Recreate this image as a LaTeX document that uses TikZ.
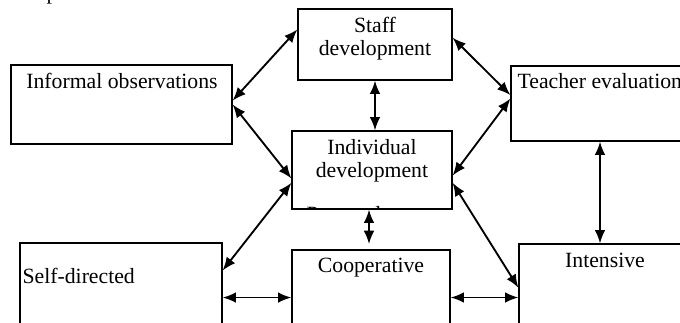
\documentclass[tikz,border=0pt]{standalone}
\usepackage{fontspec}
\setmainfont{Liberation Serif}
\usetikzlibrary{arrows.meta}
\tikzset{
  every picture/.style={line width=0.9pt},
  box/.style={draw, rectangle, inner sep=0pt},
  lbl/.style={font=\fontsize{16.3}{17.25}\selectfont, inner sep=0pt, align=center},
  link/.style={<->, line width=1.4pt}
}

\begin{document}
\begin{tikzpicture}[x=0.75pt, y=-0.75pt, >={Latex[length=10pt, width=8pt]}]
    \useasboundingbox (0,0) rectangle (680,322);
    \clip (0,0) rectangle (680,322);

    \node [box, minimum width=115.5pt, minimum height=53.25pt] (staff) at (375,44.5) {};
    \node [box, minimum width=165.75pt, minimum height=59.25pt] (informal) at (121.5,104.5) {};
    \node [box, minimum width=142.5pt, minimum height=56.25pt] (teacher) at (606,103.5) {};
    \node [box, minimum width=120pt, minimum height=58.5pt] (individual) at (372,170) {};
    \node [box, minimum width=151.5pt, minimum height=76.5pt] (selfdir) at (121,294) {};
    \node [box, minimum width=118.5pt, minimum height=71.25pt] (coop) at (371,297.5) {};
    \node [box, minimum width=143.25pt, minimum height=75.75pt] (intensive) at (614.5,294.5) {};

    \node [lbl, anchor=base west] (topT) at (46,-0.5) {p};
    \node [lbl, anchor=base] (staffT) at (375,55) {Staff\\development};
    \node [lbl, anchor=base] (informalT) at (122,88) {Informal observations};
    \node [lbl, anchor=base west] (teacherT) at (517,88) {Teacher evaluation};
    \node [lbl, anchor=base] (individualT) at (372,177) {Individual\\development};
    \node [lbl, anchor=base west] (selfdirT) at (22,283) {Self-directed};
    \node [lbl, anchor=base] (coopT) at (371,272) {Cooperative};
    \node [lbl, anchor=base] (intensiveT) at (605,267) {Intensive};

    \begin{scope}
      \clip (individual.north west) rectangle (individual.south east);
      \node [lbl, anchor=north west] (personalT) at (306,206) {Personal};
    \end{scope}

    \draw(staff.169) edge[link] (informal.2);
    \draw(informal.0) edge[link] (individual.186);
    \draw(staff.5) edge[link] (teacher.175);
    \draw(teacher.177) edge[link] (individual.-4);
    \draw(staff.south) edge[link] (staff.south |- individual.north);
    \draw([xshift=-2.25pt]individual.south) edge[link, shorten >=4pt] ([xshift=-2.25pt]individual.south |- coop.north);
    \draw(individual.189) edge[link] (selfdir.13);
    \draw(individual.-9) edge[link] (intensive.176);
    \draw([xshift=-4.5pt]teacher.south) edge[link] ([xshift=-4.5pt]teacher.south |- intensive.north);
    \draw(selfdir.-2) edge[link] (selfdir.-2 -| coop.west);
    \draw(coop.east) edge[link] (coop.east -| intensive.west);
  \end{tikzpicture}
\end{document}
